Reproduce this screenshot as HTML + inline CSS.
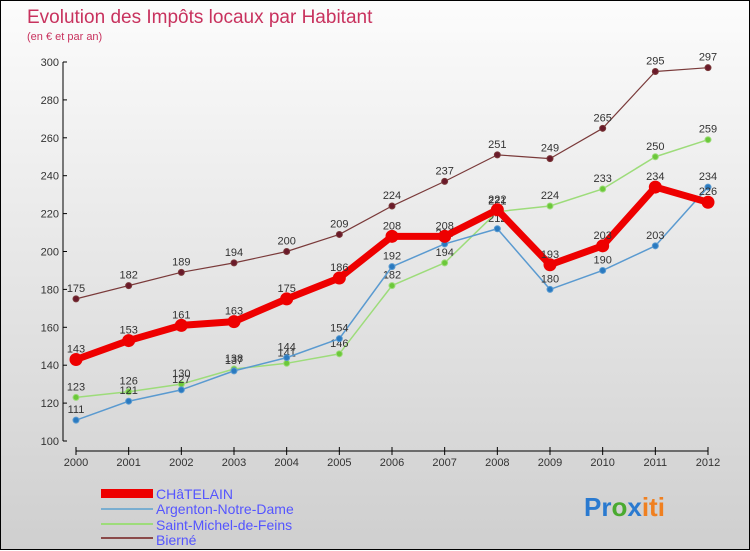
<!DOCTYPE html>
<html><head><meta charset="utf-8"><style>
html,body{margin:0;padding:0}
body{width:750px;height:550px;overflow:hidden;font-family:"Liberation Sans",sans-serif}
#wrap{position:relative;width:748px;height:548px;border:1px solid #000;background:linear-gradient(#fcfcfc,#cfcfcf)}
svg{position:absolute;left:0;top:0}
</style></head><body>
<div id="wrap">
<svg id="chart" width="750" height="550">
<text x="26" y="22" font-size="19" fill="#c8325e">Evolution des Impôts locaux par Habitant</text>
<text x="26" y="39" font-size="11" fill="#c8325e">(en € et par an)</text>
<g id="axes"></g><g id="series"></g>
<g>
<rect x="100" y="488" width="52" height="9" fill="#e00"/>
<text x="155" y="498" font-size="14" fill="#5555ff">CHâTELAIN</text>
<rect x="100" y="507" width="52" height="2" fill="#7aaed0"/>
<text x="155" y="513" font-size="14" fill="#5555ff">Argenton-Notre-Dame</text>
<rect x="100" y="522" width="52" height="2" fill="#9ddc7a"/>
<text x="155" y="529" font-size="14" fill="#5555ff">Saint-Michel-de-Feins</text>
<rect x="100" y="536" width="52" height="2" fill="#8a4a4a"/>
<text x="155" y="544" font-size="14" fill="#5555ff">Bierné</text>
</g>
<text x="583" y="515" font-size="26" font-weight="bold"><tspan fill="#2a7ad0">Pr</tspan><tspan fill="#4aaa30">o</tspan><tspan fill="#2a7ad0">x</tspan><tspan fill="#f08020">iti</tspan></text>
</svg></div>
<script>
const years=[2000,2001,2002,2003,2004,2005,2006,2007,2008,2009,2010,2011,2012];
const yTicks=[100,120,140,160,180,200,220,240,260,280,300];
const bierne=[175,182,189,194,200,209,224,237,251,249,265,295,297];
const saintMichel=[123,126,130,138,141,146,182,194,221,224,233,250,259];
const argenton=[111,121,127,137,144,154,192,204,212,180,190,203,234];
const chatelain=[143,153,161,163,175,186,208,208,222,193,203,234,226];
const NS="http://www.w3.org/2000/svg";
function X(i){return 75+(707-75)*i/(years.length-1);}
function Y(v){return 440-(v-100)*(440-61)/200;}
function mk(t,a,p){const e=document.createElementNS(NS,t);for(const k in a)e.setAttribute(k,a[k]);p.appendChild(e);return e;}
const ax=document.getElementById('axes');
const yl=mk('line',{x1:62,y1:61,x2:62,y2:440,stroke:'#000'},ax);


yTicks.forEach(v=>{
 mk('line',{x1:62,x2:66,y1:Y(v),y2:Y(v),stroke:'#000'},ax);
 const t=mk('text',{x:58,y:Y(v)+4,'text-anchor':'end','font-size':11,fill:'#333'},ax);
 t.textContent=v;
 
 
});
const xl=mk('line',{x1:75,y1:450,x2:707,y2:450,stroke:'#000'},ax);


years.forEach((y,i)=>{
 mk('line',{x1:X(i),x2:X(i),y1:446,y2:454,stroke:'#000'},ax);
 const t=mk('text',{x:X(i),y:465,'text-anchor':'middle','font-size':11,fill:'#333'},ax);
 t.textContent=y;
 
 
});
const sg=document.getElementById('series');
function series(data,color,w,r,name,fill){
 const pts=data.map((v,i)=>X(i)+','+Y(v)).join(' ');
 const pl=mk('polyline',{points:pts,fill:'none',stroke:color,'stroke-width':w,'stroke-linejoin':'round'},sg);
 
 
 data.forEach((v,i)=>{
  const c=mk('circle',{cx:X(i),cy:Y(v),r:r,fill:fill,stroke:color,'stroke-width':1},sg);
  
  
  const t=mk('text',{x:X(i),y:Y(v)-7,'text-anchor':'middle','font-size':11,fill:'#333'},sg);
  t.textContent=v;
  
  
 });
}
series(bierne,'#7a3a3a',1.2,3,'bierne','#6a1a2a');
series(saintMichel,'#9ddc7a',1.5,3,'saint-michel','#6cc83a');
series(argenton,'#5a9ad0',1.5,3,'argenton','#2a7ac0');
series(chatelain,'#ee0000',7,6,'chatelain','#ee0000');
</script>
</body></html>
